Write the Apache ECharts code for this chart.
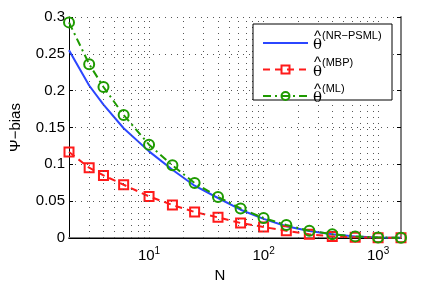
<!DOCTYPE html>
<html><head><meta charset="utf-8">
<script src="https://cdn.jsdelivr.net/npm/echarts@6/dist/echarts.min.js"></script>
<style>html,body{margin:0;padding:0;background:#fff}#c{width:436px;height:281px}</style>
</head><body><div id="c"></div>
<script>
const N = [2,3,4,6,10,16,25,40,63,100,158,251,398,631,1000,1585];
const biasNRPSML = [0.255,0.207,0.181,0.149,0.1176,0.0927,0.071,0.0543,0.0384,0.026,0.016,0.0095,0.005,0.002,0.0008,0.0003];
const biasMBP = [0.1167,0.0954,0.085,0.0723,0.0565,0.0448,0.0353,0.028,0.0204,0.0149,0.0099,0.005,0.0022,0.001,0.0005,0.0003];
const biasML = [0.2927,0.236,0.205,0.167,0.1267,0.0986,0.0747,0.0557,0.0402,0.0271,0.0176,0.0099,0.005,0.0022,0.0008,0.0003];
const legendNames = ['NR-PSML','MBP','ML'];
const legendSup = {'NR-PSML':'(NR\u2212PSML)','MBP':'(MBP)','ML':'(ML)'};
const xMin = 2, xMax = 1585;
const yTicks = [0,0.05,0.1,0.15,0.2,0.25,0.3];

// grid lines at 2..9 x 10^k (log minor positions) and decades
const gridN = [];
for (let d = 1; d <= 1000; d *= 10) for (let m = 1; m <= 9; m++) { const v = m*d; if (v > xMin && v < xMax) gridN.push(v); }

const pairs = ys => N.map((n,i)=>[n, ys[i]]);
const FONT = 'Liberation Sans';
const GRID_STYLE = {color:'#555',type:[1,5],width:1};
const chart = echarts.init(document.getElementById('c'), null, {renderer:'canvas'});
chart.setOption({
  animation:false,
  backgroundColor:'#fff',
  grid:{left:69,right:35,top:17,bottom:43,containLabel:false,outerBoundsMode:'none'},
  graphic:[{type:'rect',z:10,shape:{x:253,y:24,width:139,height:76},
    style:{fill:'#fff',stroke:'#000',lineWidth:1}}],
  xAxis:[{
    type:'log', logBase:10, min:xMin, max:xMax,
    name:'N', nameLocation:'middle', nameGap:18,
    nameTextStyle:{fontFamily:FONT,fontSize:15,color:'#000',padding:[0,30,0,0]},
    axisLine:{show:true,lineStyle:{color:'#7f7f7f',width:2}},
    axisTick:{show:false},
    splitLine:{show:false},
    axisLabel:{
      margin:8, showMinLabel:false, showMaxLabel:false,
      formatter:v=>{const l=Math.log10(v); if(Math.abs(l-Math.round(l))>1e-6) return ''; return '{b|10}{e|'+Math.round(l)+'}';},
      rich:{b:{fontFamily:FONT,fontSize:15,color:'#000'},e:{fontFamily:FONT,fontSize:10,color:'#000',padding:[0,0,10,0]}}
    }
  },{
    type:'log', logBase:10, min:xMin, max:xMax, position:'top',
    axisLine:{show:true,lineStyle:{color:'#000',width:1}},
    axisTick:{show:false}, axisLabel:{show:false}, splitLine:{show:false}
  }],
  yAxis:[{
    type:'value', min:0, max:0.3, interval:0.05,
    name:'\u03A8\u2212bias', nameLocation:'middle', nameGap:46, nameRotate:90,
    nameTextStyle:{fontFamily:FONT,fontSize:15,color:'#000'},
    axisLine:{show:true,lineStyle:{color:'#000',width:1}},
    axisTick:{show:true,inside:true,length:4,lineStyle:{color:'#000'}},
    axisLabel:{fontFamily:FONT,fontSize:15,color:'#000',margin:4,
      formatter:v=>{const t=yTicks.find(x=>Math.abs(x-v)<1e-9); return t===undefined?'':String(t);}},
    splitLine:{show:true,lineStyle:GRID_STYLE}
  },{
    type:'value', min:0, max:0.3, interval:0.05, position:'right',
    axisLine:{show:true,lineStyle:{color:'#7f7f7f',width:2}},
    axisTick:{show:true,inside:true,length:4,lineStyle:{color:'#000'}},
    axisLabel:{show:false}, splitLine:{show:false}
  }],
  legend:{
    z:20, orient:'vertical', left:253, top:24,
    padding:[5,7,0,9], itemGap:2.5, itemWidth:45, itemHeight:10,
    data:[{name:'NR-PSML',itemStyle:{color:'transparent',borderWidth:0,opacity:0}},{name:'MBP'},{name:'ML'}],
    formatter:name=>'{h|^}{s|'+legendSup[name]+'}\n{t|\u03B8}',
    textStyle:{color:'#000',align:'left',padding:[0,0,5,0],
      rich:{
        h:{fontFamily:FONT,fontSize:15,padding:[0,1,0,1],lineHeight:10,color:'#000'},
        s:{fontFamily:FONT,fontSize:11,lineHeight:6,verticalAlign:'bottom',color:'#000'},
        t:{fontFamily:'DejaVu Serif',fontSize:15,lineHeight:8,color:'#000'}
      }}
  },
  series:[
    {name:'grid',type:'line',data:[],silent:true,z:1,
      markLine:{silent:true,symbol:'none',label:{show:false},
        lineStyle:GRID_STYLE,
        data:gridN.map(v=>({xAxis:v}))}},
    {name:'NR-PSML',type:'line',data:pairs(biasNRPSML),showSymbol:false,symbol:'none',
      lineStyle:{color:'#2b46ff',width:2},itemStyle:{color:'#2b46ff'},z:3},
    {name:'MBP',type:'line',data:pairs(biasMBP),symbol:'rect',symbolSize:9,clip:false,
      lineStyle:{color:'#ff1a1a',width:2,type:[7,5]},
      itemStyle:{color:'transparent',borderColor:'#ff1a1a',borderWidth:2},z:4},
    {name:'ML',type:'line',data:pairs(biasML),symbol:'circle',symbolSize:10,clip:false,
      lineStyle:{color:'#1e9a00',width:2,type:[8,4,2,4]},
      itemStyle:{color:'transparent',borderColor:'#1e9a00',borderWidth:2},z:5}
  ]
});
</script></body></html>
